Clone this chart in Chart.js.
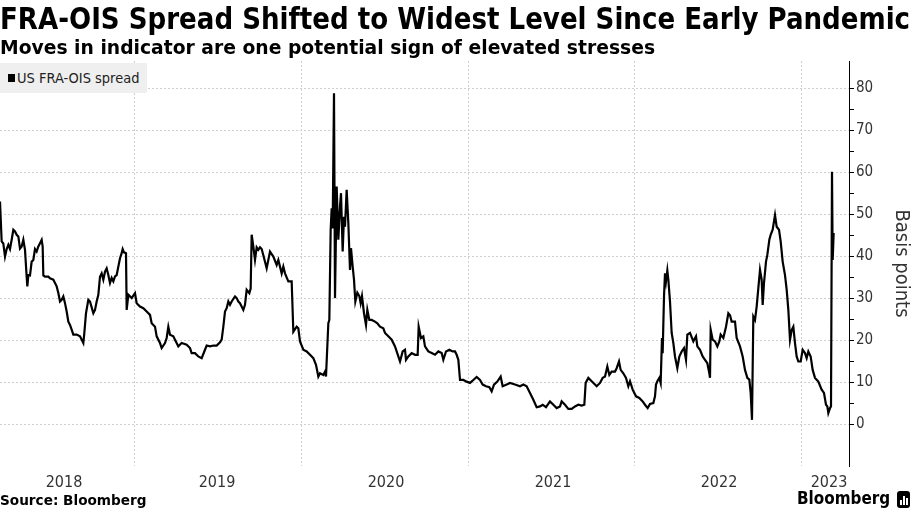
<!DOCTYPE html>
<html>
<head>
<meta charset="utf-8">
<script src="https://cdn.jsdelivr.net/npm/chart.js@4.4.1/dist/chart.umd.min.js"></script>
<style>
  html, body { margin: 0; padding: 0; background: #fff; }
  #wrap { position: relative; width: 913px; height: 513px; overflow: hidden;
          font-family: "DejaVu Sans Condensed", "Liberation Sans Narrow", "DejaVu Sans", sans-serif; color: #000; }
  #chart { position: absolute; left: 0; top: 0; }
  .fit { position: absolute; left: 0; white-space: nowrap; line-height: 1; transform-origin: 0 0; }
  #title { top: 4px; font-size: 30px; font-weight: bold; }
  #subtitle { top: 37px; font-size: 20px; font-weight: bold; }
  #source { top: 493px; font-size: 14px; font-weight: bold; }
  #logo { top: 489px; left: 797px; font-size: 18px; font-weight: bold; }
  #legend { position: absolute; left: 0; top: 63px; width: 147px; height: 30px; background: #efefef; }
  #legend .sw { position: absolute; left: 8px; top: 11px; width: 7px; height: 8px; background: #000; }
  #legend .fit { left: 17px; top: 8px; font-size: 14px; color: #222; }
  #icon { position: absolute; left: 897px; top: 491px; width: 13px; height: 17px; background: #000; border-radius: 3px; }
  #icon i { position: absolute; bottom: 3px; width: 2px; background: #fff; }
</style>
</head>
<body>
<div id="wrap">
  <canvas id="chart" width="913" height="513"></canvas>
  <div id="title" class="fit" data-w="910">FRA-OIS Spread Shifted to Widest Level Since Early Pandemic</div>
  <div id="subtitle" class="fit" data-w="655">Moves in indicator are one potential sign of elevated stresses</div>
  <div id="legend"><span class="sw"></span><div class="fit" data-w="122">US FRA-OIS spread</div></div>
  <div id="source" class="fit" data-w="146">Source: Bloomberg</div>
  <div id="logo" class="fit" data-w="93">Bloomberg</div>
  <div id="icon"><i style="left:3px;height:5px"></i><i style="left:6px;height:9px"></i><i style="left:9px;height:7px"></i></div>
</div>
<script>
// US FRA-OIS spread, basis points, x in decimal years
const dates = [
  2018.190, 2018.200, 2018.210, 2018.220, 2018.230, 2018.240, 2018.250, 2018.260, 2018.270, 2018.280,
  2018.290, 2018.300, 2018.310, 2018.320, 2018.330, 2018.340, 2018.350, 2018.354, 2018.360, 2018.370,
  2018.380, 2018.390, 2018.400, 2018.410, 2018.420, 2018.430, 2018.440, 2018.446, 2018.450, 2018.460,
  2018.480, 2018.490, 2018.510, 2018.530, 2018.540, 2018.550, 2018.560, 2018.570, 2018.580, 2018.590,
  2018.600, 2018.610, 2018.620, 2018.630, 2018.650, 2018.670, 2018.690, 2018.696, 2018.706, 2018.720,
  2018.730, 2018.740, 2018.750, 2018.760, 2018.770, 2018.780, 2018.790, 2018.800, 2018.810, 2018.820,
  2018.830, 2018.840, 2018.850, 2018.860, 2018.870, 2018.880, 2018.890, 2018.900, 2018.910, 2018.920,
  2018.926, 2018.934, 2018.946, 2018.950, 2018.960, 2018.980, 2019.000, 2019.010, 2019.030, 2019.050,
  2019.070, 2019.090, 2019.100, 2019.120, 2019.130, 2019.150, 2019.160, 2019.180, 2019.190, 2019.200,
  2019.210, 2019.230, 2019.240, 2019.260, 2019.280, 2019.310, 2019.330, 2019.340, 2019.360, 2019.380,
  2019.400, 2019.420, 2019.430, 2019.450, 2019.470, 2019.490, 2019.510, 2019.520, 2019.530, 2019.540,
  2019.550, 2019.560, 2019.570, 2019.580, 2019.600, 2019.610, 2019.620, 2019.630, 2019.650, 2019.660,
  2019.670, 2019.686, 2019.694, 2019.700, 2019.710, 2019.720, 2019.730, 2019.740, 2019.750, 2019.760,
  2019.770, 2019.790, 2019.810, 2019.830, 2019.850, 2019.860, 2019.880, 2019.890, 2019.900, 2019.920,
  2019.940, 2019.950, 2019.970, 2019.980, 2019.990, 2020.010, 2020.030, 2020.050, 2020.070, 2020.086,
  2020.100, 2020.110, 2020.130, 2020.140, 2020.146, 2020.160, 2020.166, 2020.174, 2020.180, 2020.186,
  2020.194, 2020.200, 2020.210, 2020.220, 2020.230, 2020.236, 2020.246, 2020.254, 2020.260, 2020.270,
  2020.280, 2020.290, 2020.296, 2020.306, 2020.314, 2020.322, 2020.334, 2020.346, 2020.354, 2020.362,
  2020.374, 2020.386, 2020.394, 2020.406, 2020.420, 2020.440, 2020.454, 2020.470, 2020.490, 2020.500,
  2020.520, 2020.540, 2020.560, 2020.580, 2020.590, 2020.606, 2020.620, 2020.626, 2020.640, 2020.660,
  2020.680, 2020.696, 2020.702, 2020.716, 2020.730, 2020.740, 2020.760, 2020.780, 2020.800, 2020.820,
  2020.840, 2020.850, 2020.866, 2020.886, 2020.906, 2020.920, 2020.930, 2020.940, 2020.950, 2020.970,
  2020.990, 2021.010, 2021.030, 2021.050, 2021.070, 2021.086, 2021.106, 2021.126, 2021.140, 2021.154,
  2021.174, 2021.194, 2021.206, 2021.230, 2021.250, 2021.280, 2021.310, 2021.330, 2021.350, 2021.370,
  2021.390, 2021.410, 2021.430, 2021.446, 2021.466, 2021.490, 2021.510, 2021.530, 2021.550, 2021.560,
  2021.580, 2021.600, 2021.620, 2021.640, 2021.660, 2021.680, 2021.696, 2021.704, 2021.720, 2021.740,
  2021.760, 2021.770, 2021.790, 2021.806, 2021.820, 2021.834, 2021.846, 2021.860, 2021.880, 2021.890,
  2021.904, 2021.914, 2021.930, 2021.946, 2021.960, 2021.970, 2021.986, 2022.006, 2022.026, 2022.046,
  2022.060, 2022.076, 2022.090, 2022.110, 2022.120, 2022.126, 2022.134, 2022.146, 2022.154, 2022.162,
  2022.166, 2022.174, 2022.180, 2022.186, 2022.194, 2022.200, 2022.210, 2022.220, 2022.230, 2022.240,
  2022.254, 2022.266, 2022.280, 2022.294, 2022.306, 2022.314, 2022.330, 2022.350, 2022.366, 2022.374,
  2022.390, 2022.406, 2022.420, 2022.434, 2022.446, 2022.450, 2022.454, 2022.466, 2022.480, 2022.494,
  2022.506, 2022.514, 2022.530, 2022.546, 2022.560, 2022.570, 2022.580, 2022.600, 2022.610, 2022.630,
  2022.646, 2022.660, 2022.674, 2022.686, 2022.694, 2022.702, 2022.710, 2022.720, 2022.730, 2022.740,
  2022.750, 2022.760, 2022.766, 2022.774, 2022.786, 2022.794, 2022.806, 2022.814, 2022.826, 2022.840,
  2022.850, 2022.864, 2022.874, 2022.886, 2022.900, 2022.910, 2022.920, 2022.930, 2022.940, 2022.950,
  2022.960, 2022.970, 2022.980, 2022.994, 2023.006, 2023.020, 2023.030, 2023.040, 2023.054, 2023.066,
  2023.080, 2023.100, 2023.120, 2023.134, 2023.146, 2023.154, 2023.160, 2023.170, 2023.176, 2023.182,
  2023.186, 2023.192
];
const spreadBp = [
  53.0, 43.5, 43.0, 39.9, 41.7, 42.7, 41.7, 43.9, 46.3, 45.9,
  45.1, 44.7, 41.8, 42.3, 43.9, 41.5, 35.1, 32.8, 35.5, 35.4,
  38.7, 39.1, 41.7, 41.1, 42.3, 43.1, 43.9, 42.3, 35.4, 35.1,
  35.1, 34.7, 34.4, 32.8, 31.2, 29.2, 29.6, 30.4, 28.8, 26.8,
  24.4, 23.6, 22.5, 21.3, 21.3, 20.9, 19.3, 21.7, 26.4, 29.6,
  29.2, 27.8, 26.4, 27.2, 29.2, 30.8, 35.1, 35.9, 34.4, 36.3,
  37.1, 35.5, 33.6, 34.8, 34.0, 35.2, 35.5, 37.5, 39.5, 40.7,
  41.7, 40.9, 40.7, 27.2, 30.8, 30.0, 31.2, 28.8, 28.0, 27.6,
  26.8, 26.0, 24.0, 23.2, 20.9, 19.3, 18.1, 19.3, 20.5, 23.2,
  21.3, 20.9, 20.1, 18.5, 19.3, 18.9, 18.1, 16.9, 16.9, 16.1,
  15.7, 17.7, 18.7, 18.5, 18.7, 18.7, 19.5, 20.1, 23.2, 26.8,
  27.6, 29.2, 28.4, 29.2, 30.4, 30.0, 29.2, 28.8, 27.2, 28.4,
  32.0, 31.2, 32.3, 45.1, 42.3, 39.1, 42.1, 41.5, 42.1, 41.7,
  40.2, 37.1, 41.1, 39.9, 37.9, 39.1, 35.9, 37.5, 35.9, 34.0,
  34.0, 22.0, 23.2, 22.8, 19.7, 17.7, 17.3, 16.5, 15.7, 14.1,
  11.3, 12.1, 11.7, 12.5, 11.3, 24.0, 24.8, 46.3, 51.4, 46.6,
  78.8, 30.0, 56.6, 43.9, 51.8, 55.0, 41.1, 49.4, 47.0, 55.8,
  47.9, 36.7, 41.9, 37.5, 34.4, 29.2, 31.3, 30.5, 28.8, 30.5,
  26.4, 23.6, 27.2, 24.8, 24.8, 24.4, 24.0, 23.2, 22.8, 21.7,
  20.9, 20.1, 18.5, 16.1, 14.9, 17.3, 17.7, 15.3, 16.1, 16.9,
  16.5, 16.5, 23.2, 20.5, 20.9, 18.5, 17.3, 16.9, 16.5, 17.3,
  16.9, 15.3, 17.3, 17.7, 17.3, 17.3, 16.5, 15.3, 10.5, 10.5,
  10.1, 9.8, 10.5, 11.2, 10.5, 9.4, 9.0, 8.8, 7.8, 9.4,
  10.1, 11.3, 9.0, 9.4, 9.8, 9.4, 9.0, 9.4, 9.0, 7.4,
  5.8, 4.0, 4.2, 4.6, 4.0, 5.4, 4.6, 3.8, 4.2, 5.4,
  4.6, 3.6, 3.6, 4.2, 4.6, 4.4, 4.6, 9.8, 11.0, 10.2,
  9.4, 9.0, 9.8, 11.0, 11.3, 13.7, 11.7, 12.5, 12.5, 13.3,
  14.9, 12.9, 12.1, 11.0, 9.0, 10.2, 8.2, 6.6, 6.2, 5.4,
  4.6, 3.8, 4.8, 5.0, 6.6, 9.4, 10.2, 11.0, 9.8, 20.5,
  16.9, 30.4, 35.9, 34.0, 36.6, 34.4, 29.2, 21.7, 19.3, 16.1,
  13.3, 16.1, 17.3, 18.1, 15.3, 21.3, 21.7, 19.7, 20.9, 18.5,
  17.7, 16.1, 15.3, 14.5, 12.1, 11.0, 22.5, 20.1, 19.7, 18.5,
  19.7, 21.3, 20.5, 23.2, 26.4, 25.9, 24.4, 24.4, 20.5, 18.5,
  16.1, 12.9, 11.0, 10.6, 7.4, 1.0, 25.6, 24.8, 28.0, 32.4,
  36.7, 34.4, 28.4, 33.6, 38.7, 40.3, 43.9, 45.1, 46.3, 49.8,
  47.0, 46.3, 43.5, 38.7, 35.5, 32.0, 27.2, 20.1, 22.4, 23.2,
  19.3, 16.1, 14.9, 14.9, 17.7, 16.9, 15.7, 17.3, 16.1, 12.9,
  11.0, 10.1, 8.2, 7.4, 4.6, 4.2, 2.6, 3.8, 4.2, 60.1,
  39.1, 45.5
];

// axes
const xMin = 2018.19;
const xMax = 2023.284;
const gridYears = [2019, 2020, 2021, 2022, 2023];
const yearLabels = ['2018', '2019', '2020', '2021', '2022', '2023'];
const yearLabelPos = [2018.574, 2019.492, 2020.506, 2021.508, 2022.504, 2023.164];
const yTicks = [0, 5, 10, 15, 20, 25, 30, 35, 40, 45, 50, 55, 60, 65, 70, 75, 80];
const yMin = -10;
const yMax = 86.5;

const fontFamily = '"DejaVu Sans Condensed", "Liberation Sans Narrow", "DejaVu Sans", sans-serif';
const gridColor = '#cfcfcf';

// squeeze html text into the width it has in the reference
document.querySelectorAll('.fit').forEach(el => {
    const target = parseFloat(el.dataset.w);
    el.style.transform = `scaleX(${target / el.offsetWidth})`;
});

const points = dates.map((d, i) => ({ x: d, y: spreadBp[i] }));

const ctx = document.getElementById('chart').getContext('2d');
new Chart(ctx, {
    type: 'line',
    data: {
        datasets: [{
            label: 'US FRA-OIS spread',
            data: points,
            borderColor: '#000',
            borderWidth: 2.2,
            pointRadius: 0,
            tension: 0,
            fill: false,
        }],
    },
    options: {
        responsive: false,
        animation: false,
        layout: { padding: { top: 61, left: 0, right: 0, bottom: 17 } },
        plugins: {
            legend: { display: false },
            tooltip: { enabled: false },
        },
        scales: {
            // year gridlines
            x: {
                type: 'linear',
                min: xMin,
                max: xMax,
                afterBuildTicks: scale => { scale.ticks = gridYears.map(v => ({ value: v })); },
                afterFit: scale => { scale.height = 0; },
                ticks: { display: false },
                grid: { color: gridColor, drawTicks: false },
                border: { display: false, dash: [2, 2] },
            },
            // year labels, centred in each year
            xl: {
                type: 'linear',
                axis: 'x',
                position: 'bottom',
                min: xMin,
                max: xMax,
                afterBuildTicks: scale => { scale.ticks = yearLabelPos.map(v => ({ value: v })); },
                afterFit: scale => { scale.height = 30; },
                ticks: {
                    autoSkip: false,
                    maxRotation: 0,
                    padding: 7,
                    color: '#333',
                    font: { family: fontFamily, size: 16 },
                    callback: (value, index) => yearLabels[index],
                },
                grid: { display: false, drawTicks: false },
                border: { display: false },
            },
            y: {
                position: 'right',
                min: yMin,
                max: yMax,
                afterBuildTicks: scale => { scale.ticks = yTicks.map(v => ({ value: v })); },
                afterFit: scale => { scale.width = 64; },
                ticks: {
                    padding: 2,
                    color: '#333',
                    font: { family: fontFamily, size: 15 },
                    callback: value => (value % 10 === 0 ? value : ''),
                },
                grid: {
                    color: c => (c.tick && c.tick.value % 10 === 0 ? gridColor : 'rgba(0,0,0,0)'),
                    tickColor: '#000',
                    tickLength: 5,
                },
                border: { display: true, color: '#000', width: 1, dash: [2, 2] },
                title: {
                    display: true,
                    text: 'Basis points',
                    color: '#333',
                    font: { family: fontFamily, size: 20 },
                    padding: { top: 0, bottom: 1 },
                },
            },
        },
    },
});
</script>
</body>
</html>
